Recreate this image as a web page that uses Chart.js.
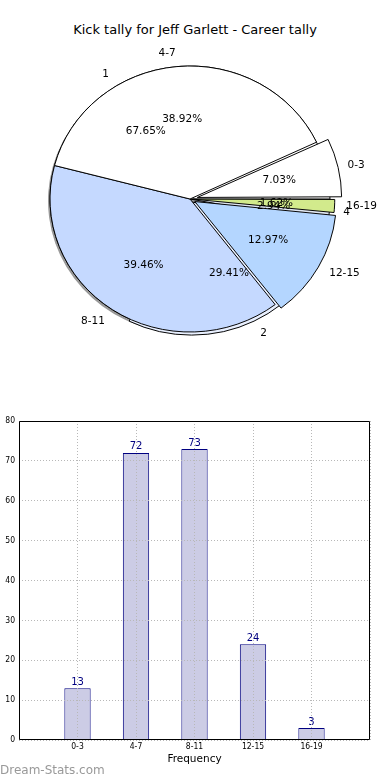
<!DOCTYPE html>
<html><head><meta charset="utf-8">
<script src="https://cdn.jsdelivr.net/npm/chart.js@4"></script>
<style>
html,body{margin:0;padding:0;background:#fff;}
body{width:390px;height:780px;position:relative;overflow:hidden;font-family:"DejaVu Sans",sans-serif;}
#title{position:absolute;left:0;top:22px;width:390px;text-align:center;font-size:13px;color:#000;line-height:16px;}
canvas{position:absolute;}
#wm{position:absolute;left:0;top:763px;font-size:12px;color:#999;line-height:15px;}
</style></head><body>
<div id="title">Kick tally for Jeff Garlett - Career tally</div>
<canvas id="pieB" width="390" height="320" style="left:0;top:40px"></canvas>
<canvas id="pieA" width="390" height="320" style="left:0;top:40px"></canvas>
<canvas id="bar" width="390" height="370" style="left:0;top:410px"></canvas>
<div id="wm">Dream-Stats.com</div>
<script>
// ---- data ----
const binLabels = ['0-3', '4-7', '8-11', '12-15', '16-19'];
const binCounts = [13, 72, 73, 24, 3];
const gameLabels = ['1', '2', '4'];
const gameCounts = [23, 10, 1];
const yTicks = [0, 10, 20, 30, 40, 50, 60, 70, 80];

// ---- styles ----
const binColors = ['#ffffff', '#ffffff', '#c5d9ff', '#b4d6ff', '#d2ea8c'];
const gameColors = ['#ffffff', '#e9f0ff', '#dfe6f2'];
const binOffsets = [30, 0, 0, 22, 10];
const gameOffsets = [0, 14, 0];
const SY = 0.95;
const PIE_R = 140;

Chart.defaults.font.family = '"DejaVu Sans", sans-serif';
Chart.defaults.color = '#000';

function ellipsePlugin(shadow) {
  return {
    id: 'ellipse',
    beforeDatasetsDraw(chart) {
      const ctx = chart.ctx;
      const meta = chart.getDatasetMeta(0);
      const a0 = meta.data[0];
      const cx = a0.x, cy = a0.y;
      ctx.save();
      ctx.translate(cx, cy); ctx.scale(1, SY); ctx.translate(-cx, -cy);
      if (shadow) {
        ctx.save();
        ctx.translate(-2, 2 / SY);
        ctx.fillStyle = 'rgba(0,0,0,0.4)';
        meta.data.forEach(arc => {
          const x = arc.x, y = arc.y;
          ctx.beginPath();
          ctx.moveTo(x, y);
          ctx.arc(x, y, arc.outerRadius, arc.startAngle, arc.endAngle);
          ctx.closePath();
          ctx.fill();
        });
        ctx.restore();
      }
    },
    afterDatasetsDraw(chart) { chart.ctx.restore(); }
  };
}

function drawPieLabels(chart, ctx) {
  const meta = chart.getDatasetMeta(0);
  const ds = chart.data.datasets[0];
  const total = ds.data.reduce((a, b) => a + b, 0);
  ctx.save();
  ctx.fillStyle = '#000';
  ctx.font = '10.5px "DejaVu Sans", sans-serif';
  ctx.textBaseline = 'middle';
  meta.data.forEach((arc, i) => {
    const mid = (arc.startAngle + arc.endAngle) / 2;
    const off = (arc.options.offset || 0) / 4;
    const bx = arc.x + Math.cos(mid) * off, by = arc.y + Math.sin(mid) * off;
    const r = arc.outerRadius;
    const pos = k => ({x: bx + Math.cos(mid) * r * k, y: arc.y + (by - arc.y + Math.sin(mid) * r * k) * SY});
    const p = pos(1.1);
    ctx.textAlign = Math.cos(mid) >= 0 ? 'left' : 'right';
    ctx.fillText(chart.data.labels[i], p.x, p.y);
    const q = pos(0.6);
    ctx.textAlign = 'center';
    ctx.fillText((ds.data[i] / total * 100).toFixed(2) + '%', q.x, q.y);
  });
  ctx.restore();
}

function makePie(id, labels, values, colors, offsets, plugins) {
  const rev = a => a.slice().reverse();
  return new Chart(document.getElementById(id), {
    type: 'pie',
    data: {
      labels: rev(labels),
      datasets: [{
        data: rev(values),
        backgroundColor: rev(colors),
        offset: rev(offsets),
        borderColor: '#000',
        borderWidth: 1,
        radius: PIE_R
      }]
    },
    options: {
      responsive: false, animation: false, devicePixelRatio: 1, events: [],
      rotation: 90, radius: PIE_R,
      layout: {padding: {left: 0, right: 10, top: 0, bottom: 2}},
      plugins: {legend: {display: false}, tooltip: {enabled: false}}
    },
    plugins: plugins
  });
}

const pieGames = makePie('pieB', gameLabels, gameCounts, gameColors, gameOffsets, [ellipsePlugin(true)]);
const pieBins = makePie('pieA', binLabels, binCounts, binColors, binOffsets, [ellipsePlugin(false), {
  id: 'pieLabels',
  afterDraw(chart) {
    drawPieLabels(pieGames, chart.ctx);
    drawPieLabels(chart, chart.ctx);
  }
}]);

// ---- bar chart ----
const smallFont = {family: '"DejaVu Sans Condensed", "Liberation Sans Narrow", "DejaVu Sans", sans-serif', size: 8.5};
const boxPlugin = {
  id: 'box',
  afterDraw(chart) {
    const xs = chart.scales.x, ys = chart.scales.y;
    const l = Math.round(xs.left) + 0.5, r = Math.round(xs.right) - 0.5;
    const t = Math.round(ys.top) + 0.5, b = Math.round(ys.bottom) - 0.5;
    const ctx = chart.ctx;
    ctx.save();
    ctx.strokeStyle = '#000'; ctx.lineWidth = 1; ctx.setLineDash([]);
    ctx.beginPath();
    ctx.moveTo(l, t); ctx.lineTo(r, t); ctx.lineTo(r, b); ctx.lineTo(l, b); ctx.closePath();
    ctx.stroke();
    ctx.restore();
  }
};
const barLabelPlugin = {
  id: 'barLabels',
  afterDatasetsDraw(chart) {
    const ctx = chart.ctx;
    const meta = chart.getDatasetMeta(0);
    ctx.save();
    ctx.fillStyle = '#000080';
    ctx.font = '10px "DejaVu Sans", sans-serif';
    ctx.textAlign = 'center'; ctx.textBaseline = 'bottom';
    meta.data.forEach((bar, i) => ctx.fillText(String(binCounts[i]), bar.x, bar.y - 1));
    ctx.restore();
  }
};

new Chart(document.getElementById('bar'), {
  type: 'bar',
  data: {
    datasets: [{
      data: binCounts.map((v, i) => ({x: i + 1, y: v})),
      backgroundColor: '#cccce5',
      borderColor: '#000080',
      borderWidth: 1,
      borderSkipped: 'bottom',
      barPercentage: 0.45,
      categoryPercentage: 1
    }]
  },
  options: {
    responsive: false, animation: false, devicePixelRatio: 1, events: [],
    layout: {padding: {top: 11, right: 20, left: 0, bottom: 13}},
    plugins: {legend: {display: false}, tooltip: {enabled: false}},
    scales: {
      x: {
        type: 'linear', position: 'bottom', min: 0, max: 6, offset: false,
        afterBuildTicks(s) { s.ticks = [0, 1, 2, 3, 4, 5, 6].map(v => ({value: v})); },
        ticks: {callback: v => binLabels[v - 1] || '', font: smallFont, color: '#000', padding: 2, maxRotation: 0, autoSkip: false},
        grid: {color: '#b8b8b8', lineWidth: 1, drawTicks: false, offset: false, z: 1},
        border: {display: false, dash: [1, 2]},
        title: {display: true, text: 'Frequency', font: {size: 10.5}, color: '#000', padding: {top: 0, bottom: 1}},
        afterFit(s) { s.height = 27; }
      },
      y: {
        position: 'left', min: 0, max: 80,
        afterBuildTicks(s) { s.ticks = yTicks.map(v => ({value: v})); },
        ticks: {font: smallFont, color: '#000', padding: 4},
        grid: {color: '#b8b8b8', lineWidth: 1, drawTicks: false, z: 1},
        border: {display: false, dash: [1, 2]},
        afterFit(s) { s.width = 19; }
      }
    }
  },
  plugins: [boxPlugin, barLabelPlugin]
});
</script>
</body></html>
